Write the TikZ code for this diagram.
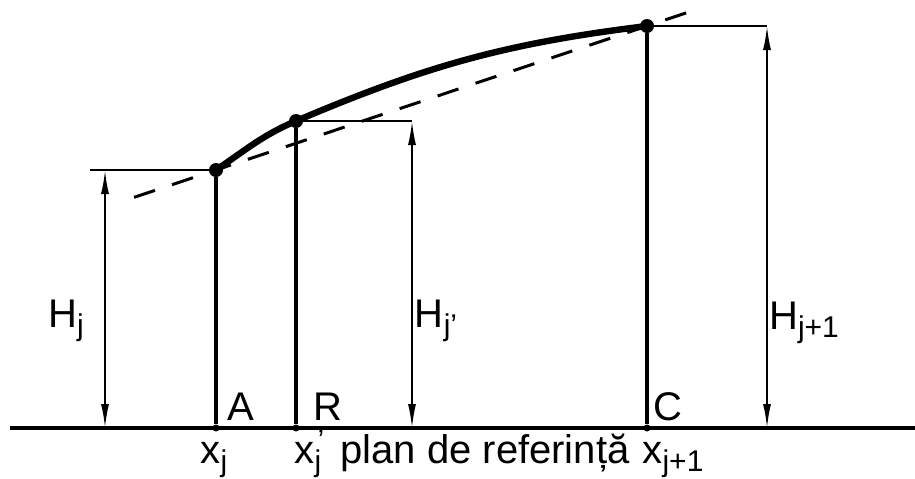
\documentclass[tikz,border=0pt]{standalone}
\usepackage{fontspec}
\setmainfont{Liberation Sans}
\usetikzlibrary{arrows.meta, calc}

\newcommand{\idx}[1]{\raisebox{-0.4ex}{\fontsize{15}{15}\selectfont #1}}
\newcommand{\prm}{\makebox[0pt][l]{\raisebox{0.6ex}{\fontsize{15}{15}\selectfont\kern0.1em'}}}

\begin{document}
\begin{tikzpicture}[x=0.5pt, y=-0.5pt,
            point/.style={circle, fill, inner sep=0pt, minimum size=7pt},
            foot/.style={circle, fill, inner sep=0pt, minimum size=3.5pt},
            ord/.style={line width=1.7pt},
            ext/.style={line width=1.1pt},
            dim/.style={line width=0.9pt, {Latex[length=12pt,width=4pt]}-{Latex[length=12pt,width=4pt]}},
            chord/.style={line width=1.5pt, dash pattern=on 11pt off 9pt},
            profile/.style={line width=3.2pt, line cap=round},
            lbl/.style={anchor=base, inner sep=0pt, font=\fontsize{20}{24}\selectfont}
        ]
            \useasboundingbox (0,0) rectangle (915,478);
            % Reference plane
            \coordinate (b0) at (10,428);
            \coordinate (b1) at (915,428);
            \draw[line width=1.7pt] (b0) -- (b1);
            % Profile points and their feet
            \node[point] (A) at (216,170) {};
            \node[point] (R) at (296,121) {};
            \node[point] (C) at (647,26) {};
            \node[foot] (fA) at (216,428) {};
            \node[foot] (fR) at (296,428) {};
            \node[foot] (fC) at (647,428) {};
            \draw[ord] (A) -- (fA);
            \draw[ord] (R) -- (fR);
            \draw[ord] (C) -- (fC);
            % Chord A--C and profile
            \draw[chord] ($(A)!-0.19!(C)$) -- ($(A)!1.116!(C)$);
            \draw[profile] (A.center) to[out=34, in=203] (R.center)
                to[out=23, in=187] (C.center);
            % Height dimensions
            \coordinate (eA) at (90,170);
            \coordinate (hA) at (105,170);
            \coordinate (hA0) at (105,428);
            \coordinate (hR) at (412,121);
            \coordinate (hR0) at (412,428);
            \coordinate (hC) at (767,26);
            \coordinate (hC0) at (767,428);
            \draw[ext] (eA) -- (A);
            \draw[ext] (R) -- (hR);
            \draw[ext] (C) -- (hC);
            \draw[dim] (hA) -- (hA0);
            \draw[dim] (hR) -- (hR0);
            \draw[dim] (hC) -- (hC0);
            \node[lbl] (lHj) at (66,327) {H\idx{j}};
            \node[lbl] (lHr) at (436,327) {H\idx{j'}};
            \node[lbl] (lHc) at (804,329) {H\idx{j+1}};
            % Point letters
            \node[lbl] (lA) at (241,420) {A};
            \node[lbl] (lR) at (328,420) {R};
            \node[lbl] (lC) at (668,420) {C};
            % Abscissae
            \node[lbl] (xA) at (214,463) {x\idx{j}};
            \node[lbl] (xR) at (308,463) {x\prm\idx{j}};
            \node[lbl] (plan) at (485,463) {plan de referință};
            \node[lbl] (xC) at (673,463) {x\idx{j+1}};
        \end{tikzpicture}
\end{document}
